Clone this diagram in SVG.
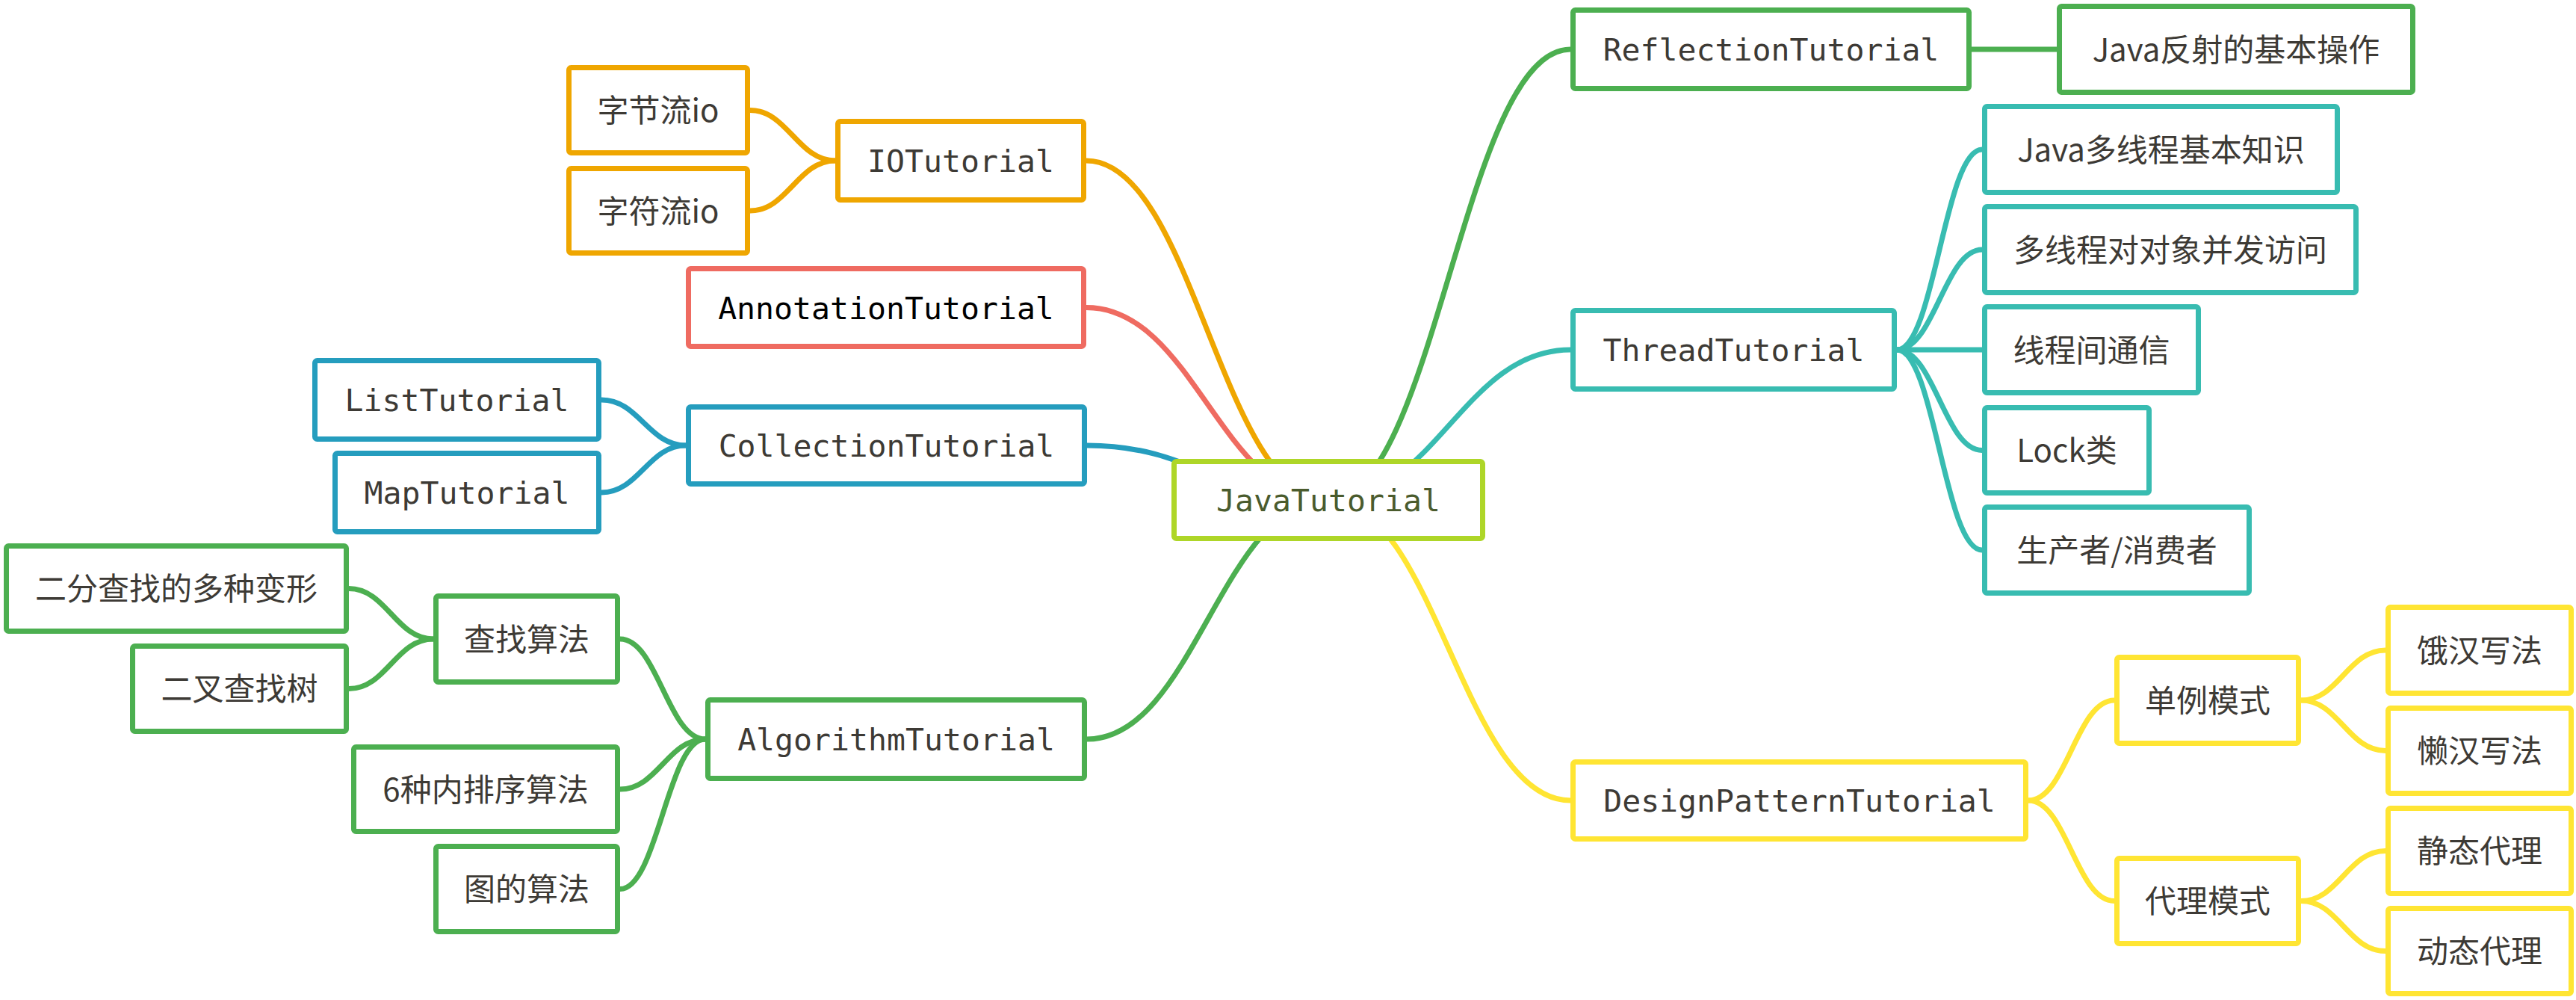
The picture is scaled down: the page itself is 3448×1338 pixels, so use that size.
<svg xmlns="http://www.w3.org/2000/svg" width="3448" height="1338" viewBox="0 0 3448 1338">
<style>
rect{fill:#fff;stroke-width:7}
path{fill:none;stroke-width:7;stroke-linecap:round}
text{font-size:41.5px;text-anchor:middle;fill:#3d3a35}
.m{font-family:"DejaVu Sans Mono","Liberation Mono",monospace}
.c{font-family:"Noto Sans CJK SC","Noto Sans",sans-serif;font-size:42px}
.o{stroke:#EFA600}.r{stroke:#EF6B61}.b{stroke:#259DBE}.g{stroke:#4CAF50}.t{stroke:#38BCB1}.y{stroke:#FFE533}.l{stroke:#AED628}
</style>
<rect width="3448" height="1338" style="fill:#fff;stroke:none"/>
<g id="connectors">
<path class="o" d="M1454,215 C1597,215 1635,669 1778,669"/>
<path class="r" d="M1454,411.5 C1597,411.5 1635,669 1778,669"/>
<path class="b" d="M1455,596 C1598,596 1635,669 1778,669"/>
<path class="g" d="M1455,989 C1598,989 1635,669 1778,669"/>
<path class="g" d="M1778,669 C1921,669 1959,66 2102,66"/>
<path class="t" d="M1778,669 C1921,669 1959,468 2102,468"/>
<path class="y" d="M1778,669 C1921,669 1959,1071 2102,1071"/>
<path class="o" d="M1118,215 C1068,215 1054,147.5 1004,147.5"/>
<path class="o" d="M1118,215 C1068,215 1054,282 1004,282"/>
<path class="b" d="M918,596 C868,596 855,535 805,535"/>
<path class="b" d="M918,596 C868,596 855,659 805,659"/>
<path class="g" d="M944,989 C894,989 880,855 830,855"/>
<path class="g" d="M944,989 C894,989 880,1056 830,1056"/>
<path class="g" d="M944,989 C894,989 880,1189.5 830,1189.5"/>
<path class="g" d="M580,855 C530,855 517,787.5 467,787.5"/>
<path class="g" d="M580,855 C530,855 517,921.5 467,921.5"/>
<path class="g" d="M2639,66 L2753,66"/>
<path class="t" d="M2539,468 C2589,468 2603,200 2653,200"/>
<path class="t" d="M2539,468 C2589,468 2603,334 2653,334"/>
<path class="t" d="M2539,468 L2653,468"/>
<path class="t" d="M2539,468 C2589,468 2603,602.5 2653,602.5"/>
<path class="t" d="M2539,468 C2589,468 2603,736 2653,736"/>
<path class="y" d="M2715,1071 C2766,1071 2779,937 2830,937"/>
<path class="y" d="M2715,1071 C2766,1071 2779,1205.5 2830,1205.5"/>
<path class="y" d="M3080,937 C3130,937 3143,870 3193,870"/>
<path class="y" d="M3080,937 C3130,937 3143,1004.5 3193,1004.5"/>
<path class="y" d="M3080,1205.5 C3130,1205.5 3143,1138.5 3193,1138.5"/>
<path class="y" d="M3080,1205.5 C3130,1205.5 3143,1272.5 3193,1272.5"/>
</g>
<g id="root"><rect class="l" x="1571.5" y="617.5" width="413" height="103" rx="3"/><text class="m" x="1778" y="684" style="fill:#4a5b2d">JavaTutorial</text></g>
<g id="io"><rect class="o" x="1121.5" y="162.5" width="329" height="105" rx="3"/><text class="m" x="1286" y="230">IOTutorial</text></g>
<g id="io1"><rect class="o" x="761.5" y="90.5" width="239" height="114" rx="3"/><text class="c" x="881" y="163">字节流io</text></g>
<g id="io2"><rect class="o" x="761.5" y="225.5" width="239" height="113" rx="3"/><text class="c" x="881" y="297.5">字符流io</text></g>
<g id="annotation"><rect class="r" x="921.5" y="359.5" width="529" height="104" rx="3"/><text class="m" x="1186" y="426.5" style="fill:#000">AnnotationTutorial</text></g>
<g id="collection"><rect class="b" x="921.5" y="544.5" width="530" height="103" rx="3"/><text class="m" x="1186.5" y="611">CollectionTutorial</text></g>
<g id="list"><rect class="b" x="421.5" y="482.5" width="380" height="105" rx="3"/><text class="m" x="611.5" y="550">ListTutorial</text></g>
<g id="map"><rect class="b" x="448.5" y="606.5" width="353" height="105" rx="3"/><text class="m" x="625" y="674">MapTutorial</text></g>
<g id="algorithm"><rect class="g" x="947.5" y="936.5" width="504" height="105" rx="3"/><text class="m" x="1199.5" y="1004">AlgorithmTutorial</text></g>
<g id="search"><rect class="g" x="583.5" y="797.5" width="243" height="115" rx="3"/><text class="c" x="705" y="870.5">查找算法</text></g>
<g id="binsearch"><rect class="g" x="8.5" y="730.5" width="455" height="114" rx="3"/><text class="c" x="236" y="803">二分查找的多种变形</text></g>
<g id="bst"><rect class="g" x="177.5" y="864.5" width="286" height="114" rx="3"/><text class="c" x="320.5" y="937">二叉查找树</text></g>
<g id="sort"><rect class="g" x="473.5" y="999.5" width="353" height="113" rx="3"/><text class="c" x="650" y="1071.5">6种内排序算法</text></g>
<g id="graph"><rect class="g" x="583.5" y="1132.5" width="243" height="114" rx="3"/><text class="c" x="705" y="1205">图的算法</text></g>
<g id="reflection"><rect class="g" x="2105.5" y="13.5" width="530" height="105" rx="3"/><text class="m" x="2370.5" y="81">ReflectionTutorial</text></g>
<g id="reflect1"><rect class="g" x="2756.5" y="8.5" width="473" height="115" rx="3"/><text class="c" x="2993" y="81.5">Java反射的基本操作</text></g>
<g id="thread"><rect class="t" x="2105.5" y="415.5" width="430" height="105" rx="3"/><text class="m" x="2320.5" y="483">ThreadTutorial</text></g>
<g id="thread1"><rect class="t" x="2656.5" y="142.5" width="472" height="115" rx="3"/><text class="c" x="2892.5" y="215.5">Java多线程基本知识</text></g>
<g id="thread2"><rect class="t" x="2656.5" y="276.5" width="497" height="115" rx="3"/><text class="c" x="2905" y="349.5">多线程对对象并发访问</text></g>
<g id="thread3"><rect class="t" x="2656.5" y="410.5" width="286" height="115" rx="3"/><text class="c" x="2799.5" y="483.5">线程间通信</text></g>
<g id="thread4"><rect class="t" x="2656.5" y="545.5" width="220" height="114" rx="3"/><text class="c" x="2766.5" y="618">Lock类</text></g>
<g id="thread5"><rect class="t" x="2656.5" y="678.5" width="354" height="115" rx="3"/><text class="c" x="2833.5" y="751.5">生产者/消费者</text></g>
<g id="design"><rect class="y" x="2105.5" y="1019.5" width="606" height="103" rx="3"/><text class="m" x="2408.5" y="1086">DesignPatternTutorial</text></g>
<g id="singleton"><rect class="y" x="2833.5" y="879.5" width="243" height="115" rx="3"/><text class="c" x="2955" y="952.5">单例模式</text></g>
<g id="proxy"><rect class="y" x="2833.5" y="1148.5" width="243" height="114" rx="3"/><text class="c" x="2955" y="1221">代理模式</text></g>
<g id="eager"><rect class="y" x="3196.5" y="812.5" width="245" height="115" rx="3"/><text class="c" x="3319" y="885.5">饿汉写法</text></g>
<g id="lazy"><rect class="y" x="3196.5" y="947.5" width="245" height="114" rx="3"/><text class="c" x="3319" y="1020">懒汉写法</text></g>
<g id="static"><rect class="y" x="3196.5" y="1081.5" width="245" height="114" rx="3"/><text class="c" x="3319" y="1154">静态代理</text></g>
<g id="dynamic"><rect class="y" x="3196.5" y="1215.5" width="245" height="114" rx="3"/><text class="c" x="3319" y="1288">动态代理</text></g>
</svg>
